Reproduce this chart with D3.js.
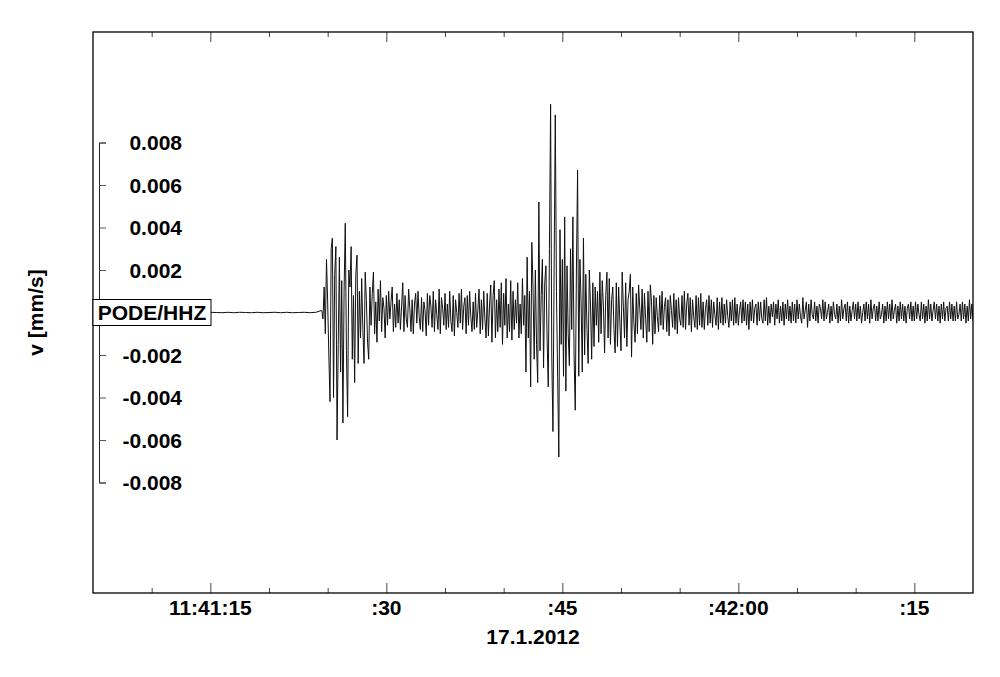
<!DOCTYPE html>
<html>
<head>
<meta charset="utf-8">
<script src="https://cdn.jsdelivr.net/npm/d3@7"></script>
<style>
  html, body { margin: 0; padding: 0; background: #fff; }
  svg { display: block; font-family: "Liberation Sans", Arial, sans-serif; font-weight: bold; }
</style>
</head>
<body>
<svg id="chart" width="1000" height="677"></svg>
<script>
// ---------------- DATA ----------------
const dateStr = "2012-01-17";
const stationLabel = "PODE/HHZ";
const yAxisTitle = "v [mm/s]";
const xAxisTitle = "17.1.2012";
const timeStart = "11:41:05";
const timeEnd = "11:42:20";
const xTickTimes = ["11:41:15", "11:41:30", "11:41:45", "11:42:00", "11:42:15"];
const xTickLabels = ["11:41:15", ":30", ":45", ":42:00", ":15"];
const yTickValues = [0.008, 0.006, 0.004, 0.002, -0.002, -0.004, -0.006, -0.008];
const yBracket = [-0.008, 0.008];
const yDomain = [-0.0132, 0.0132];

// amplitudes in units of 1e-4 mm/s
const ampUnit = 1e-4;
// quiet record before the event, one value per half second from 11:41:05
const preEventStart = "11:41:05";
const preEventStep = 0.5;
const preEvent = [0.1, -0.1, 0.1, 0, -0.1, 0.1, -0.1, 0, 0.1, -0.1, 0.1, -0.1, 0, 0.1, -0.1, 0.1, 0, -0.1, 0.1, -0.1,
  0.1, 0, -0.1, 0.1, -0.1, 0.1, 0, -0.1, 0.1, -0.1, 0, 0.1, -0.1, 0.1, -0.1, 0, 0.1, -0.1, 0.1];

// event record, values every 0.1 s from 11:41:24.5
const eventStart = "11:41:24.500";
const eventStep = 0.1;
const pWave = [1, -3, 12, -10, 25, 5, -20, -42, 30, 35, -40, 18, 31, -60, -15, 26, -28, 15, -52, 10,
  42, -18, -49, 20, 12, 31, -22, 8, -33, 18, 27, -24, 10, -12, 16, -8, -24, 19, 6, -14,
  -22, 12, -6, 9, 19, -10, 5, -14, 11, -4, 15, -9, 7, 2, -12, 8, -6, 10, -3, 5,
  12, -9, 4, -7, 9, -5, 6, -8, 3, 14, -9];
const coda1 = [8, -3, -7, 11, 2, -9, 6, -10, 4, 9, -5, 10, -2, -8, 7, -9, 5, 1, -11, 9,
  -6, 8, 3, -7, 10, -9, 6, -1, -8, 11, -10, 7, 2, -6, 9, -8, 4, -7, 10, -4,
  -9, 8, -11, 6, 0, -7, 9, -5, 11, -8, 3, 7, -10, 8, -6, 10, -2, -9, 5, -8,
  9, -7, 1, 11, -10, 6, -8, 10, -3, -12, 9, -11, 4, 13, -14, 8, 15, -12, 6, -9,
  11, -7, 14, -15, 9, -6, 16, -12, 4, -9, 15, -13, 10];
const sWave = [-8, 6, -5, 14, -12, 4, -10, 16, -6, 8, -28, 26, -12, 10, -35, 33, 12, -22, 20, -15,
  -33, 52, -18, 8, 25, -26, 14, 22, -12, -35, 30, 98, -20, -56, 20, 93, 10, -30, -68, 39,
  -15, 25, -30, 45, -37, 22, -10, -25, 30, -8, 45, -20, -46, 20, 67, -30, 25, 5, -28, 35,
  -20, 18, -8, -24, 20, 4, -22, 14, -16, 12, -6, 10, -14, 19, -10, 15, 3, -19, 8, 19,
  -12, 16, -15, 6, 12, -8, -19, 14, -16];
const coda2 = [12, -4, -18, 19, 3, -12, 14, -16, 6, 10, 18, -21, 12, -5, -14, 9, -10, 13, 2, -8,
  11, -12, 9, -3, -14, 10, -9, 13, 5, -15, 8, -10, 7, -2, -9, 8, -6, 10, -8, 3,
  7, -9, 6, -11, 8, 1, -7, 9, -8, 6, -10, 7, -3, -6, 8, -7, 10, -8, 4, 9,
  -6, 7, -9, 6, -2, -7, 8, -8, 7, -6, 9, -7, 5, -8, 2, 6, -6, 8, -5, 6,
  -7, 5, -1, -6, 7, -8, 5, -5, 7, -6, 4, -5, 6, -2, -7, 5, -4, 6, -6, 7,
  -5, 4, -6, 1, 5, -5, 6, -4, 5, -6, 4, -8, 5, -4, 6, -5, 2, 4, -6, 5,
  -4, 5, -3, -5, 6, -4, 7, -6, 3, -5, 4, -2, 5, -6, 4, -3, 6, -5, 3, -4,
  5, -6, 4, -3, 6, -4, 3, -5, 5, -4, 4, -5, 6, -3];
const tail = [4, -2, -5, 7, -3, 1, 5, -7, 4, -4, 6, -1, -3, 5, -4, 3, -5, 4, 2, -3,
  6, -4, 5, -3, 0, 4, -5, 3, -4, 5, -1, -3, 4, -5, 3, -4, 6, -3, 2, 4,
  -4, 5, -5, 3, -4, 1, 5, -3, 4, -4, 5, -3, 3, -5, 0, 4, -4, 5, -3, 4,
  -5, 6, -3, 2, 4, -4, 3, -4, 5, -3, -1, 4, -5, 3, -4, 5, -3, 4, -4, 6,
  -3, 1, 4, -5, 3, -4, 5, -3, 4, -4, 3, -5, 2, 4, -3, 5, -4, 3, -4, 5,
  -3, 4, -1, -4, 5, -3, 4, -5, 3, -4, 6, -3, 4, -4, 1, 5, -3, 4, -4, 3,
  -5, 4, -3, 5, -4, 2, 3, -4, 5, -3, 4, -4, 3, -4, 5, -3, -1, 4, -4, 5,
  -3, 4, -5, 3, -4, 6, -3, 4, -4];

// ---------------- BUILD ----------------
const parseT = s => new Date(dateStr + "T" + s);
const t0 = parseT(preEventStart);
const te = parseT(eventStart);
const series = [];
preEvent.forEach((v, i) => series.push({ t: new Date(t0.getTime() + i * preEventStep * 1000), v: v * ampUnit }));
const eventVals = [].concat(pWave, coda1, sWave, coda2, tail);
eventVals.forEach((v, i) => series.push({ t: new Date(te.getTime() + i * eventStep * 1000), v: v * ampUnit }));

const svg = d3.select("#chart");
const L = 93, R = 973, T = 32, B = 593;
const FS = 21;

const x = d3.scaleTime().domain([parseT(timeStart), parseT(timeEnd)]).range([L, R]);
const y = d3.scaleLinear().domain(yDomain).range([B, T]);

svg.append("defs").append("clipPath").attr("id", "clip")
  .append("rect").attr("x", L).attr("y", T).attr("width", R - L).attr("height", B - T);

// waveform
svg.append("path")
  .datum(series)
  .attr("clip-path", "url(#clip)")
  .attr("fill", "none")
  .attr("stroke", "#111")
  .attr("stroke-width", 1)
  .attr("stroke-linejoin", "round")
  .attr("d", d3.line().x(d => x(d.t)).y(d => y(d.v)));

// x axes: minor ticks every 5 s, major every 15 s
const minorTicks = d3.timeSecond.every(5).range(parseT(timeStart), parseT(timeEnd));
const majorTimes = xTickTimes.map(parseT);
const majorSet = new Set(majorTimes.map(d => d.getTime()));
const minorOnly = minorTicks.filter(d => !majorSet.has(d.getTime()) && x(d) > L + 1);

function tickAxis(gen, yPos, size, vals) {
  const g = svg.append("g").attr("transform", `translate(0,${yPos})`)
    .call(gen(x).tickValues(vals).tickSize(size).tickSizeOuter(0).tickFormat(""));
  g.select(".domain").remove();
  g.selectAll(".tick line").attr("stroke", "#444").attr("stroke-width", 1);
  return g;
}
tickAxis(d3.axisTop, B, 10, majorTimes);
tickAxis(d3.axisTop, B, 5, minorOnly);
tickAxis(d3.axisBottom, T, 10, majorTimes);
tickAxis(d3.axisBottom, T, 5, minorOnly);

// x tick labels
svg.append("g").selectAll("text").data(majorTimes).join("text")
  .attr("x", d => x(d)).attr("y", 615)
  .attr("text-anchor", "middle")
  .attr("font-size", FS)
  .text((d, i) => xTickLabels[i]);

svg.append("text")
  .attr("x", (L + R) / 2).attr("y", 644)
  .attr("text-anchor", "middle").attr("font-size", FS)
  .text(xAxisTitle);

// frame
svg.append("rect").attr("x", L).attr("y", T).attr("width", R - L).attr("height", B - T)
  .attr("fill", "none").attr("stroke", "#000").attr("stroke-width", 1.3);

// y bracket axis
const yB = d3.scaleLinear().domain(yBracket).range([y(yBracket[0]), y(yBracket[1])]);
const ga = svg.append("g").attr("transform", "translate(99,0)")
  .call(d3.axisRight(yB).tickValues(yTickValues).tickSize(7).tickSizeOuter(7).tickFormat(""));
ga.select(".domain").attr("stroke", "#222").attr("stroke-width", 1);
ga.selectAll(".tick line").attr("stroke", "#555");

svg.append("g").selectAll("text").data(yTickValues).join("text")
  .attr("x", 182).attr("y", d => y(d)).attr("dy", "0.36em")
  .attr("text-anchor", "end").attr("font-size", FS)
  .text(d => d.toFixed(3));

// station label box at zero
const zeroY = y(0);
svg.append("rect").attr("x", L).attr("y", zeroY - 13).attr("width", 118).attr("height", 26)
  .attr("fill", "#fff").attr("stroke", "#000").attr("stroke-width", 1);
svg.append("text").attr("x", L + 59).attr("y", zeroY).attr("dy", "0.36em")
  .attr("text-anchor", "middle").attr("font-size", FS).text(stationLabel);

// y axis title
svg.append("text")
  .attr("transform", `translate(43,${zeroY}) rotate(-90)`)
  .attr("text-anchor", "middle").attr("font-size", FS)
  .text(yAxisTitle);
</script>
</body>
</html>
